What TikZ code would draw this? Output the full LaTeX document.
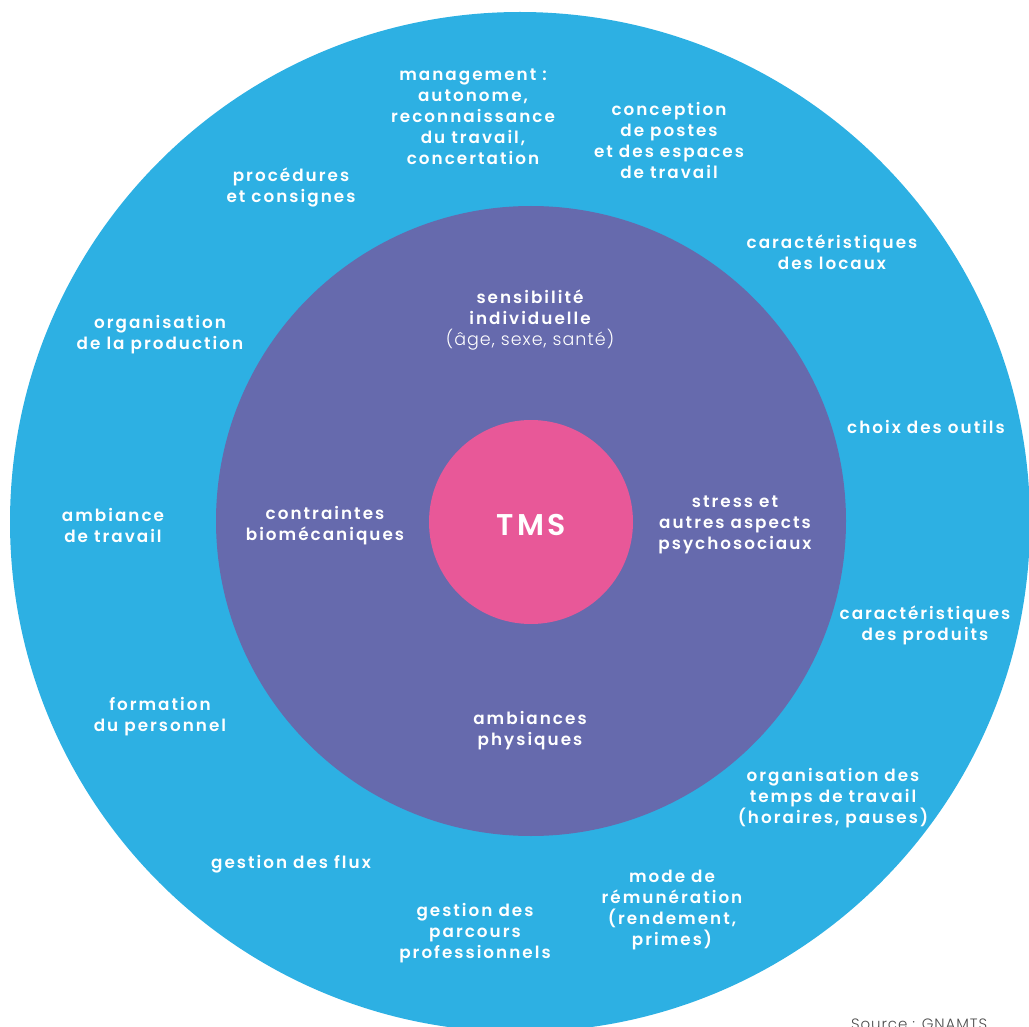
\documentclass[tikz,border=0pt]{standalone}
\usepackage{fontspec}
\setmainfont{Poppins}
\newfontfamily\lbl{Poppins SemiBold}[LetterSpace=12]
\newfontfamily\lite{Poppins Light}[LetterSpace=6]
\definecolor{outerblue}{RGB}{45,176,227}
\definecolor{midpurple}{RGB}{102,106,173}
\definecolor{tmspink}{RGB}{232,88,152}
\begin{document}
\begin{tikzpicture}
  [x=1pt,y=-1pt,every node/.style={align=center,text=white,inner sep=0pt,
   font=\lbl\fontsize{16.8}{21}\selectfont}]
  \useasboundingbox (0,0) rectangle (1029,1027);
  \clip (0,0) rectangle (1029,1027);
  % the three rings
  \fill[outerblue] (520,522) circle (510pt);
  \fill[midpurple] (531,521) circle (315pt);
  \fill[tmspink] (531,522) circle (102pt);

  \node (tms) at (531,525) {\fontsize{30}{30}\selectfont TMS};

  % inner ring
  \node (sensib) at (530,320) {sensibilité\\individuelle\\{\lite\fontsize{17.5}{21}\selectfont (âge, sexe, santé)}};
  \node (contr) at (325,526) {contraintes\\biomécaniques};
  \node (stress) at (735,525) {stress et\\autres aspects\\psychosociaux};
  \node (ambphys) at (530,731) {ambiances\\physiques};

  % outer ring
  \node (mgmt) at (473,117) {management :\\autonome,\\reconnaissance\\du travail,\\concertation};
  \node (concep) at (669,140) {conception\\de postes\\et des espaces\\de travail};
  \node (proced) at (291,187) {procédures\\et consignes};
  \node (locaux) at (832,252) {caractéristiques\\des locaux};
  \node (orgprod) at (160,335) {organisation\\de la production};
  \node (outils) at (926,427) {choix des outils};
  \node (ambtrav) at (113,525) {ambiance\\de travail};
  \node (produits) at (925,625) {caractéristiques\\des produits};
  \node (form) at (160,717) {formation\\du personnel};
  \node (temps) at (833,798) {organisation des\\temps de travail\\(horaires, pauses)};
  \node (flux) at (291,864) {gestion des flux};
  \node (remun) at (672,910) {mode de\\rémunération\\(rendement,\\primes)};
  \node (parcours) at (475,933) {gestion des\\parcours\\professionnels};

  \node[anchor=north west,text=black!70,font=\lite\fontsize{15}{15}\selectfont]
    (source) at (851,1019) {Source : GNAMTS};
\end{tikzpicture}
\end{document}
